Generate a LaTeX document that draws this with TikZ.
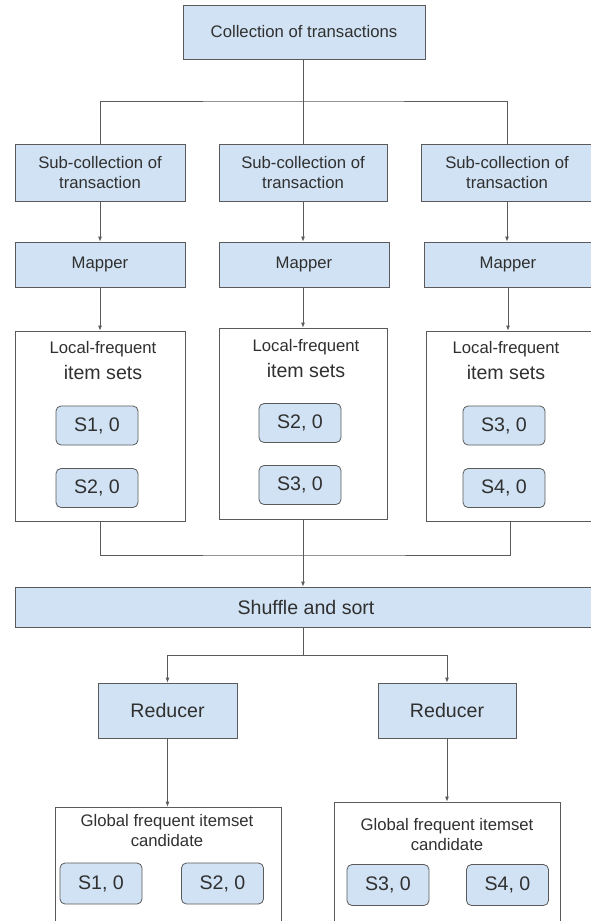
\documentclass[tikz,border=0pt]{standalone}
\usepackage{fontspec}
\setmainfont{Liberation Sans}
\usetikzlibrary{arrows.meta}
\definecolor{boxfill}{HTML}{D0E2F3}
\definecolor{boxline}{HTML}{5A5A5A}
\definecolor{txt}{HTML}{303030}
\tikzset{
  small/.style={font=\fontsize{16.7}{20}\selectfont, text=txt},
  big/.style={font=\fontsize{19.6}{23}\selectfont, text=txt},
  bluebox/.style={draw=boxline, fill=boxfill, line width=0.8pt, inner sep=0pt, align=center},
  whitebox/.style={draw=boxline, fill=white, line width=0.8pt, inner sep=0pt},
  sbox/.style={bluebox, big, rounded corners=5pt, minimum width=82pt, minimum height=39pt},
  plain/.style={inner sep=0pt, align=center},
  conn/.style={draw=boxline, line width=0.8pt},
  arr/.style={conn, -{Latex[length=5pt,width=4pt]}}
}
\begin{document}
\begin{tikzpicture}[x=1pt,y=-1pt]
\useasboundingbox (0,0) rectangle (591,921);
\clip (0,0) rectangle (591,921);
% top
\node[bluebox, small, minimum width=242pt, minimum height=54pt] (top) at (304,32) {Collection of transactions};
% sub-collections
\node[bluebox, small, minimum width=170pt, minimum height=57pt] (sub1) at (100,172.5) {Sub-collection of\\transaction};
\node[bluebox, small, minimum width=168pt, minimum height=57pt] (sub2) at (303,172.5) {Sub-collection of\\transaction};
\node[bluebox, small, minimum width=172pt, minimum height=57pt] (sub3) at (507,172.5) {Sub-collection of\\transaction};
% mappers
\node[bluebox, small, minimum width=170pt, minimum height=45pt] (map1) at (100,264.5) {Mapper};
\node[bluebox, small, minimum width=170pt, minimum height=45pt] (map2) at (304,264.5) {Mapper};
\node[bluebox, small, minimum width=168pt, minimum height=45pt] (map3) at (508,264.5) {Mapper};
% local boxes
\node[whitebox, minimum width=170pt, minimum height=190pt] (loc1) at (100,426) {};
\node[whitebox, minimum width=168pt, minimum height=191pt] (loc2) at (303,423.5) {};
\node[whitebox, minimum width=168pt, minimum height=190pt] (loc3) at (510,426) {};
\node[plain, small] (lf1) at (103,349) {Local-frequent};
\node[plain, big] (is1) at (103,372) {item sets};
\node[plain, small] (lf2) at (306,347) {Local-frequent};
\node[plain, big] (is2) at (306,370) {item sets};
\node[plain, small] (lf3) at (506,349) {Local-frequent};
\node[plain, big] (is3) at (506,372) {item sets};
\node[sbox] (a1) at (97,425.5) {S1, 0};
\node[sbox] (a2) at (97,488) {S2, 0};
\node[sbox] (b1) at (300,423) {S2, 0};
\node[sbox] (b2) at (300,485) {S3, 0};
\node[sbox] (c1) at (504,425.5) {S3, 0};
\node[sbox] (c2) at (504,488) {S4, 0};
% shuffle
\node[bluebox, big, minimum width=582pt, minimum height=40pt] (shuf) at (306,607) {Shuffle and sort};
% reducers
\node[bluebox, big, minimum width=139pt, minimum height=55pt] (red1) at (167.5,710.5) {Reducer};
\node[bluebox, big, minimum width=138pt, minimum height=55pt] (red2) at (447,710.5) {Reducer};
% global boxes
\node[whitebox, minimum width=226pt, minimum height=128pt] (g1) at (168,871) {};
\node[whitebox, minimum width=226pt, minimum height=133pt] (g2) at (447,868.5) {};
\node[plain, small] (gt1) at (167,831) {Global frequent itemset\\candidate};
\node[plain, small] (gt2) at (447,834.5) {Global frequent itemset\\candidate};
\node[sbox, minimum height=41pt] (d1) at (101,883.5) {S1, 0};
\node[sbox, minimum height=41pt] (d2) at (222.5,883.5) {S2, 0};
\node[sbox, minimum height=41pt] (e1) at (388,885) {S3, 0};
\node[sbox, minimum height=41pt] (e2) at (507.5,885) {S4, 0};
% connectors
\coordinate (split) at (303,101);
\coordinate (merge) at (303,555);
\coordinate (split2) at (303,655);
\draw[conn] (top.south -| split) -- (split);
\draw[conn] (sub1.north) |- (split) -| (sub3.north);
\draw[conn] (split) -- (sub2.north);
\draw[arr] (sub1.south) -- (map1.north);
\draw[arr] (sub2.south) -- (map2.north -| sub2.south);
\draw[arr] (sub3.south) -- (map3.north -| sub3.south);
\draw[arr] (map1.south) -- (loc1.north);
\draw[arr] (map2.south -| loc2.north) -- (loc2.north);
\draw[arr] (map3.south) -- (loc3.north -| map3.south);
\draw[conn] (loc1.south) |- (merge) -| (loc3.south);
\draw[conn] (loc2.south) -- (merge);
\draw[arr] (merge) -- (shuf.north -| merge);
\draw[conn] (shuf.south -| split2) -- (split2);
\draw[arr] (split2) -| (red1.north);
\draw[arr] (split2) -| (red2.north);
\draw[arr] (red1.south) -- (g1.north -| red1.south);
\draw[arr] (red2.south) -- (g2.north -| red2.south);
\end{tikzpicture}
\end{document}
